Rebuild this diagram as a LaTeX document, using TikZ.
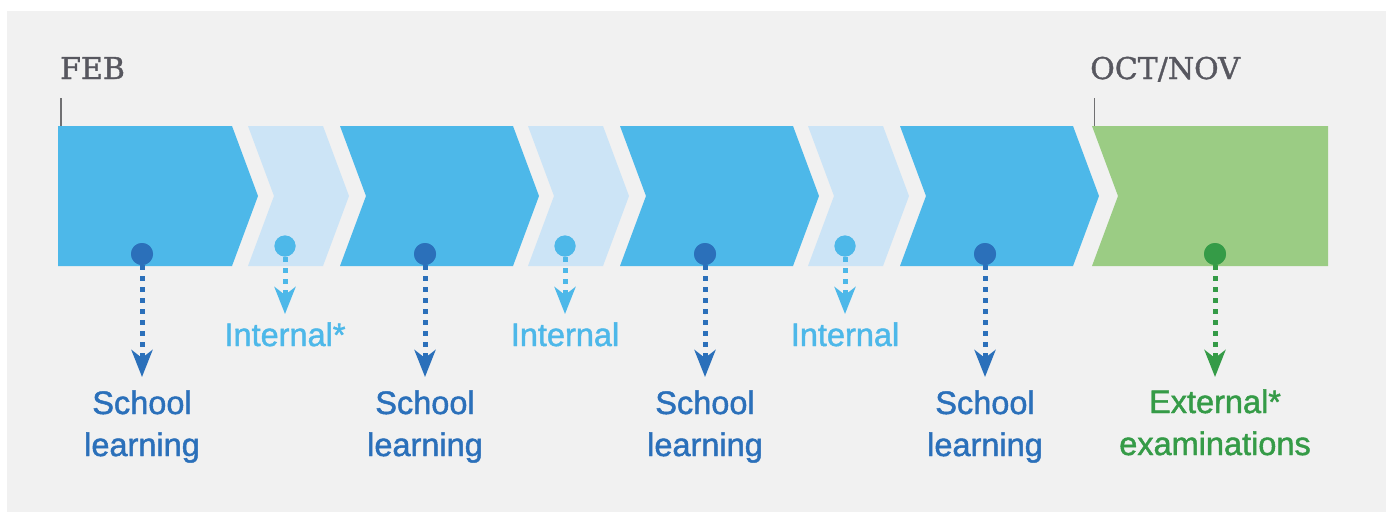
\documentclass[tikz,border=0pt]{standalone}
\usepackage{fontspec}
\setmainfont{Liberation Sans}
\newfontfamily\labelfont{Liberation Sans}[FakeBold=1.4]
\newfontfamily\slabfont{DejaVu Serif}[FakeBold=1.2]
\usetikzlibrary{arrows.meta}
\definecolor{bggrey}{HTML}{F1F1F1}
\definecolor{blockblue}{HTML}{4DB8E9}
\definecolor{blocklight}{HTML}{CCE4F6}
\definecolor{blockgreen}{HTML}{9BCC84}
\definecolor{darkblue}{HTML}{2B70BA}
\definecolor{darkgreen}{HTML}{359B47}
\definecolor{monthgrey}{HTML}{57575F}
\definecolor{tickgrey}{HTML}{707072}
\newcommand{\twolines}[2]{\vtop{\baselineskip=42pt\lineskiplimit=-100pt\halign{\hfil##\hfil\cr #1\cr #2\cr}}}
\tikzset{
  dotmark/.style={circle, inner sep=0pt, minimum size=22pt, fill=#1},
  lightdot/.style={circle, inner sep=0pt, minimum size=21pt, fill=#1},
  dotarrow/.style={draw=#1, line width=5pt, dash pattern=on 5pt off 6pt,
    -{Stealth[length=27pt, width=21pt, inset=8pt, fill=#1]}},
  label/.style={anchor=base, inner sep=0pt, text=#1, font=\labelfont\fontsize{32.5}{42}\selectfont},
  month/.style={anchor=base west, inner sep=0pt, text=monthgrey, font=\slabfont\fontsize{30}{36}\selectfont},
  tick/.style={draw=tickgrey, line width=1.2pt}
}
\begin{document}
\begin{tikzpicture}[x=1pt, y=-1pt]
\useasboundingbox (0,0) rectangle (1386,512);
\fill[bggrey] (7,11) rectangle (1386,512);
% blocks
\fill[blockblue] (58,126) -- (232,126) -- (258,196) -- (232,266) -- (58,266) -- cycle;
\foreach \L in {340,620,900}{
  \fill[blockblue] (\L,126) -- ({\L+173},126) -- ({\L+199},196) -- ({\L+173},266) -- (\L,266) -- ({\L+26},196) -- cycle;
}
\foreach \L in {248,528,808}{
  \fill[blocklight] (\L,126) -- ({\L+75},126) -- ({\L+101},196) -- ({\L+75},266) -- (\L,266) -- ({\L+26},196) -- cycle;
}
\fill[blockgreen] (1092,126) -- (1328,126) -- (1328,266) -- (1092,266) -- (1118,196) -- cycle;
% months
\node[month] (feb) at (60,79) {FEB};
\node[month] (octnov) at (1090,79) {OCT/NOV};
\coordinate (febtop) at (61,98);
\coordinate (febbot) at (61,126);
\coordinate (octtop) at (1094.5,98);
\coordinate (octbot) at (1094.5,126);
\draw[tick] (febtop) -- (febbot);
\draw[tick] (octtop) -- (octbot);
% school learning
\foreach \i/\x in {1/142,2/425,3/705,4/985}{
  \node[dotmark=darkblue] (s\i) at (\x,254) {};
  \coordinate (st\i) at (\x,377);
  \draw[dotarrow=darkblue] (s\i.center) -- (st\i);
  \node[dotmark=darkblue] at (s\i) {};
  \node[label=darkblue] (sl\i) at (\x,414) {\twolines{School}{learning}};
}
% internal
\foreach \i/\x/\t in {1/285/{Internal*},2/565/{Internal},3/845/{Internal}}{
  \node[lightdot=blockblue] (n\i) at (\x,246) {};
  \coordinate (nt\i) at (\x,314);
  \draw[dotarrow=blockblue] (n\i.center) -- (nt\i);
  \node[lightdot=blockblue] at (n\i) {};
  \node[label=blockblue] (nl\i) at (\x,346) {\t};
}
% external
\node[dotmark=darkgreen] (e1) at (1215,254) {};
\coordinate (et1) at (1215,377);
\draw[dotarrow=darkgreen] (e1.center) -- (et1);
\node[dotmark=darkgreen] at (e1) {};
\node[label=darkgreen] (el1) at (1215,413) {\twolines{External*}{examinations}};
\end{tikzpicture}
\end{document}
